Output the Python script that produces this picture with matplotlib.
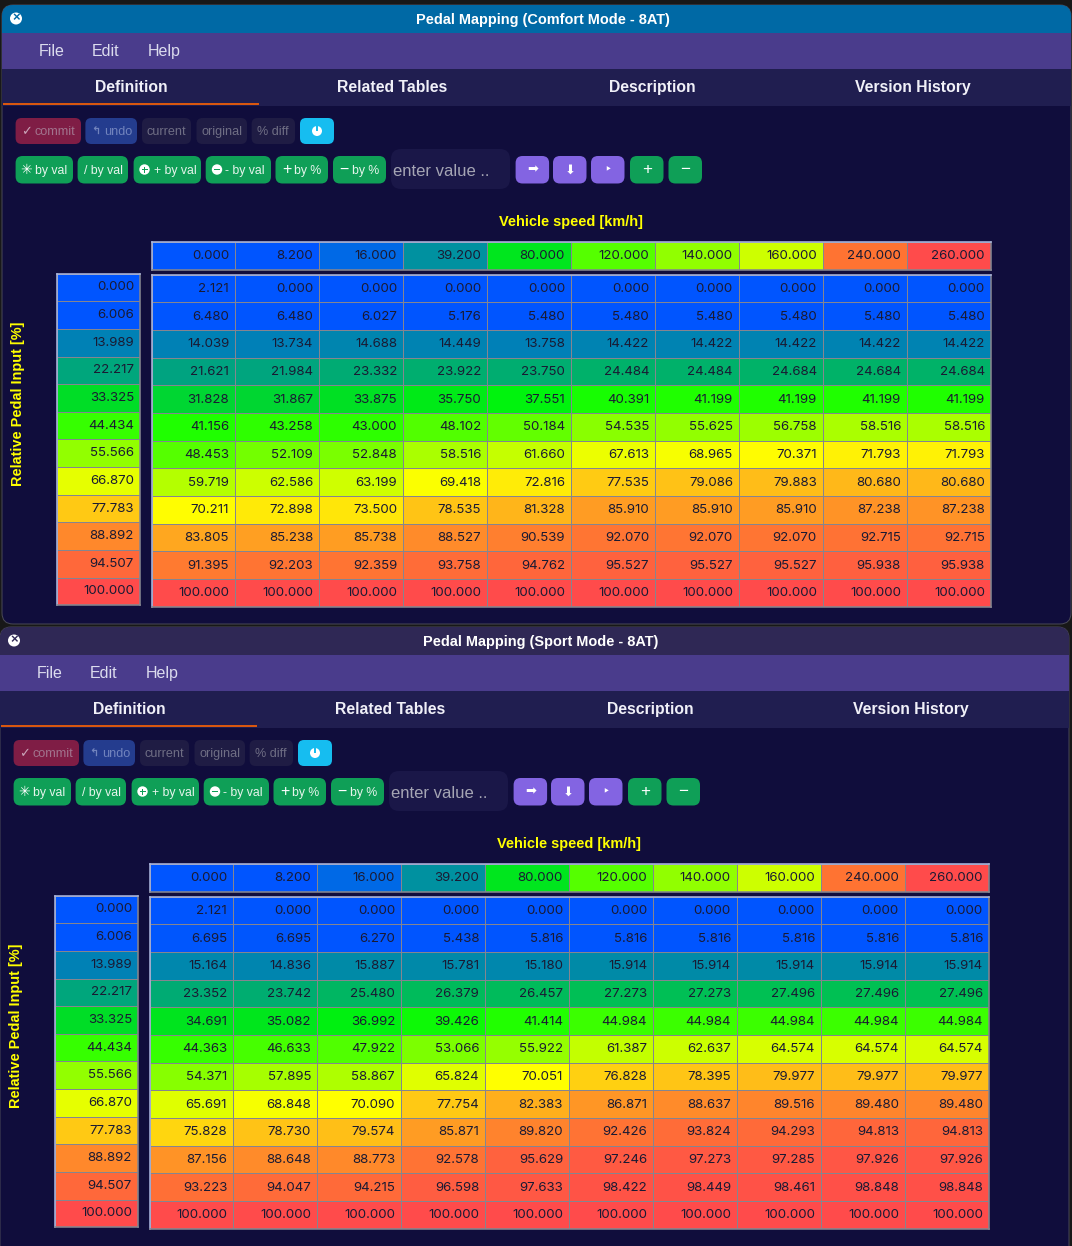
import numpy as np
import matplotlib
matplotlib.use("Agg")
import matplotlib.pyplot as plt
from matplotlib.colors import LinearSegmentedColormap, Normalize, ListedColormap
from matplotlib.patches import FancyBboxPatch, Rectangle, Circle

# ---------- data ----------
speed_axis = [0.000, 8.200, 16.000, 39.200, 80.000, 120.000, 140.000, 160.000, 240.000, 260.000]
pedal_axis = [0.000, 6.006, 13.989, 22.217, 33.325, 44.434, 55.566, 66.870, 77.783, 88.892, 94.507, 100.000]

comfort_map = [
    [2.121, 0.000, 0.000, 0.000, 0.000, 0.000, 0.000, 0.000, 0.000, 0.000],
    [6.480, 6.480, 6.027, 5.176, 5.480, 5.480, 5.480, 5.480, 5.480, 5.480],
    [14.039, 13.734, 14.688, 14.449, 13.758, 14.422, 14.422, 14.422, 14.422, 14.422],
    [21.621, 21.984, 23.332, 23.922, 23.750, 24.484, 24.484, 24.684, 24.684, 24.684],
    [31.828, 31.867, 33.875, 35.750, 37.551, 40.391, 41.199, 41.199, 41.199, 41.199],
    [41.156, 43.258, 43.000, 48.102, 50.184, 54.535, 55.625, 56.758, 58.516, 58.516],
    [48.453, 52.109, 52.848, 58.516, 61.660, 67.613, 68.965, 70.371, 71.793, 71.793],
    [59.719, 62.586, 63.199, 69.418, 72.816, 77.535, 79.086, 79.883, 80.680, 80.680],
    [70.211, 72.898, 73.500, 78.535, 81.328, 85.910, 85.910, 85.910, 87.238, 87.238],
    [83.805, 85.238, 85.738, 88.527, 90.539, 92.070, 92.070, 92.070, 92.715, 92.715],
    [91.395, 92.203, 92.359, 93.758, 94.762, 95.527, 95.527, 95.527, 95.938, 95.938],
    [100.000, 100.000, 100.000, 100.000, 100.000, 100.000, 100.000, 100.000, 100.000, 100.000],
]
sport_map = [
    [2.121, 0.000, 0.000, 0.000, 0.000, 0.000, 0.000, 0.000, 0.000, 0.000],
    [6.695, 6.695, 6.270, 5.438, 5.816, 5.816, 5.816, 5.816, 5.816, 5.816],
    [15.164, 14.836, 15.887, 15.781, 15.180, 15.914, 15.914, 15.914, 15.914, 15.914],
    [23.352, 23.742, 25.480, 26.379, 26.457, 27.273, 27.273, 27.496, 27.496, 27.496],
    [34.691, 35.082, 36.992, 39.426, 41.414, 44.984, 44.984, 44.984, 44.984, 44.984],
    [44.363, 46.633, 47.922, 53.066, 55.922, 61.387, 62.637, 64.574, 64.574, 64.574],
    [54.371, 57.895, 58.867, 65.824, 70.051, 76.828, 78.395, 79.977, 79.977, 79.977],
    [65.691, 68.848, 70.090, 77.754, 82.383, 86.871, 88.637, 89.516, 89.480, 89.480],
    [75.828, 78.730, 79.574, 85.871, 89.820, 92.426, 93.824, 94.293, 94.813, 94.813],
    [87.156, 88.648, 88.773, 92.578, 95.629, 97.246, 97.273, 97.285, 97.926, 97.926],
    [93.223, 94.047, 94.215, 96.598, 97.633, 98.422, 98.449, 98.461, 98.848, 98.848],
    [100.000, 100.000, 100.000, 100.000, 100.000, 100.000, 100.000, 100.000, 100.000, 100.000],
]
speed_colors = ["#0055ff", "#0055ff", "#0069e6", "#0091a0", "#00e61e",
                "#55ff00", "#91ff00", "#cdff00", "#ff7332", "#ff4b4b"]

# ---------- style ----------
W, H = 1072, 1246
SANS = "Liberation Sans"
NUM = "Inter"
stops = [(0, (0, 85, 255)), (6.5, (0, 85, 255)), (14, (0, 130, 180)), (22, (0, 165, 125)),
         (33, (0, 220, 40)), (38, (0, 245, 10)), (41, (30, 255, 0)), (48, (80, 255, 0)),
         (55.5, (145, 255, 0)), (62, (200, 255, 0)), (67, (230, 255, 0)), (70, (255, 255, 0)),
         (78, (255, 200, 20)), (86, (255, 155, 35)), (92, (255, 118, 50)), (100, (255, 75, 75))]
cmap = LinearSegmentedColormap.from_list(
    "pedal", [(p / 100, tuple(c / 255 for c in rgb)) for p, rgb in stops], N=512)
norm = Normalize(0, 100)
GRID = "#85858f"
EDGE_TOP = "#a9b4dc"
INK = "#1a1a33"
px = 72 / 100  # points per pixel at dpi 100

fig = plt.figure(figsize=(W / 100, H / 100), dpi=100, facecolor="#181818")
bg = fig.add_axes([0, 0, 1, 1], zorder=0)
bg.set_xlim(0, W)
bg.set_ylim(H, 0)
bg.axis("off")


def pill(x0, y0, x1, y1, color, r=6, z=3, alpha=1.0, ec="none"):
    p = FancyBboxPatch((x0 + r, y0 + r), x1 - x0 - 2 * r, y1 - y0 - 2 * r,
                       boxstyle=f"round,pad={r},rounding_size={r}", fc=color, ec=ec,
                       lw=0.7, zorder=z, alpha=alpha)
    bg.add_patch(p)
    return p


def label(x, y, s, size, color="white", weight="normal", ha="center", family=SANS, rot=0, z=5):
    return bg.text(x, y + 0.8, s, fontsize=size * px, color=color, fontweight=weight, ha=ha, va="center",
                   family=family, rotation=rot, zorder=z)


def draw_table(x0, y0, x1, y1, data, colors=None, dy=0.0):
    """One table of cells placed at pixel bounds x0..x1 / y0..y1."""
    ax = fig.add_axes([x0 / W, 1 - y1 / H, (x1 - x0) / W, (y1 - y0) / H], zorder=2)
    data = np.asarray(data, dtype=float)
    nr, nc = data.shape
    if colors is None:
        ax.pcolormesh(data, cmap=cmap, norm=norm, edgecolors=GRID, linewidth=1.0 * px)
    else:
        idx = np.arange(data.size).reshape(data.shape)
        ax.pcolormesh(idx, cmap=ListedColormap(colors), edgecolors=GRID, linewidth=1.0 * px)
    ax.set_xlim(0, nc)
    ax.set_ylim(nr, 0)
    ax.set_xticks([])
    ax.set_yticks([])
    for side, s in ax.spines.items():
        s.set_linewidth(1.6 * px)
        s.set_color(EDGE_TOP if side in ("top", "left") else GRID)
    cw = (x1 - x0) / nc
    ch = (y1 - y0) / nr
    for r in range(nr):
        for c in range(nc):
            ax.text(c + 1 - 6.3 / cw, r + 0.5 + (dy + 1.0) / ch, f"{data[r, c]:.3f}", ha="right", va="center",
                    fontsize=13.3 * px, color=INK, family=NUM)
    return ax


def gear(x, y, kind):
    bg.add_patch(Circle((x, y), 5.2, fc="white", ec="none", zorder=6))
    if kind == "plus":
        bg.add_patch(Rectangle((x - 3, y - 0.8), 6, 1.6, fc="#0f9f57", ec="none", zorder=7))
        bg.add_patch(Rectangle((x - 0.8, y - 3), 1.6, 6, fc="#0f9f57", ec="none", zorder=7))
    else:
        bg.add_patch(Rectangle((x - 3, y - 0.8), 6, 1.6, fc="#0f9f57", ec="none", zorder=7))


def panel(ox, oy, x0, x1, y0, y1, title, title_color, data):
    body = pill(x0, y0, x1, y1, "#100d3c", r=11, z=1, ec="#4a4a58")
    clip = [
        (y0, 33 + oy, title_color),
        (33 + oy, 69 + oy, "#4a3c8c"),
        (69 + oy, 106 + oy, "#201e50"),
    ]
    for a, b, col in clip:
        rect = Rectangle((x0, a), x1 - x0, b - a, fc=col, ec="none", zorder=1.5)
        bg.add_patch(rect)
        rect.set_clip_path(body)
    bg.add_patch(Circle((16 + ox, 18.5 + oy), 6, fc="white", ec="none", zorder=4))
    label(16 + ox, 17.6 + oy, "×", 13, color=title_color, weight="bold", z=5)
    label(543 + ox, 19 + oy, title, 14.5, weight="bold")
    for x, s in ((51.5, "File"), (106, "Edit"), (164, "Help")):
        label(x + ox, 51 + oy, s, 16, color="#dcdcee")
    for x, s in ((131.5, "Definition"), (392, "Related Tables"), (652.5, "Description"), (912.5, "Version History")):
        label(x + ox, 87 + oy, s, 15.8, color="#f0f0f8", weight="bold")
    bg.add_patch(Rectangle((3 + ox, 103.3 + oy), 256, 1.7, fc="#d9570f", ec="none", zorder=3))

    # first toolbar row
    for a, b, col, s, tc in ((15.6, 81, "#7f1d45", "commit", "#a2748e"), (85.4, 137, "#243c8e", "undo", "#7183bd"),
                             (142, 191, "#1f1c44", "current", "#6f6e84"), (196.5, 247, "#1f1c44", "original", "#6f6e84"),
                             (251.6, 295, "#1f1c44", "% diff", "#6f6e84")):
        pill(a + ox, 118 + oy, b + ox, 144 + oy, col, r=6)
        if s == "commit":
            label(26 + ox, 131 + oy, "✓", 13, color="#c9a4b8", family="DejaVu Sans", weight="bold")
            label(55 + ox, 131 + oy, s, 12.6, color=tc)
        elif s == "undo":
            label(96 + ox, 130 + oy, "↰", 11, color=tc, family="DejaVu Sans", weight="bold")
            label(118 + ox, 131 + oy, s, 12.6, color=tc)
        else:
            label((a + b) / 2 + ox, 131 + oy, s, 12.6, color=tc)
    pill(300 + ox, 118 + oy, 334 + ox, 144 + oy, "#16bdf0", r=6)
    bg.add_patch(Circle((317 + ox, 131 + oy), 5, fc="white", ec="none", zorder=6))
    bg.add_patch(Rectangle((316.4 + ox, 125.5 + oy), 1.2, 5.5, fc="#16bdf0", ec="none", zorder=7))

    # second toolbar row
    G = "#0f9f57"
    for a, b in ((15.6, 73), (77.6, 128), (133.6, 201), (205.7, 271), (275.5, 328), (333, 386)):
        pill(a + ox, 156 + oy, b + ox, 183.5 + oy, G, r=7)
    label(26 + ox, 169.5 + oy, "✳", 14, family="DejaVu Sans")
    label(51.5 + ox, 170 + oy, "by val", 12.2, color="#e6f5ec")
    label(103 + ox, 170 + oy, "/ by val", 12.2, color="#e6f5ec")
    gear(144.5 + ox, 169.5 + oy, "plus")
    label(175.5 + ox, 170 + oy, "+ by val", 12.2, color="#e6f5ec")
    gear(217 + ox, 169.5 + oy, "minus")
    label(245 + ox, 170 + oy, "- by val", 12.2, color="#e6f5ec")
    label(286.5 + ox, 169 + oy, "+", 16, color="white")
    label(307.5 + ox, 170 + oy, "by %", 12.2, color="#e6f5ec")
    label(344 + ox, 169 + oy, "−", 16, color="white")
    label(365.5 + ox, 170 + oy, "by %", 12.2, color="#e6f5ec")

    pill(391 + ox, 149 + oy, 510 + ox, 189 + oy, "#1a1748", r=10)
    label(393 + ox, 170.5 + oy, "enter value ..", 16.6, color="#a5a5b4", ha="left")
    for a, s, sz in ((515.6, "➡", 13), (553, "⬇", 13), (591, "‣", 12)):
        pill(a + ox, 156 + oy, a + 33.5 + ox, 183.5 + oy, "#8364e2", r=7)
        label(a + 16.7 + ox, 169 + oy, s, sz, family="DejaVu Sans")
    for a, s in ((630, "+"), (668.5, "−")):
        pill(a + ox, 156 + oy, a + 33.5 + ox, 183.5 + oy, G, r=7)
        label(a + 16.7 + ox, 168.8 + oy, s, 17)

    # axis titles
    label(571.3 + ox, 221 + oy, "Vehicle speed [km/h]", 14.5, color="#ffff00", weight="bold")
    label(18.2 + ox, 402.7 + oy, "Relative Pedal Input [%]", 14.5, color="#ffff00", weight="bold", rot=90)

    # tables
    draw_table(151.5 + ox, 241.5 + oy, 991.2 + ox, 269.8 + oy, [speed_axis], colors=speed_colors, dy=-0.6)
    draw_table(56.8 + ox, 273.6 + oy, 140.3 + ox, 605.3 + oy, [[v] for v in pedal_axis], dy=-1.0)
    draw_table(151.5 + ox, 274.6 + oy, 991.2 + ox, 606.6 + oy, data, dy=-0.4)


panel(0, 0, 2, 1071, 5, 624, "Pedal Mapping (Comfort Mode - 8AT)", "#0069a5", comfort_map)
panel(-2, 622, 0, 1069, 627, 1268, "Pedal Mapping (Sport Mode - 8AT)", "#2f2855", sport_map)

fig.savefig("out.png", dpi=100, facecolor=fig.get_facecolor())
